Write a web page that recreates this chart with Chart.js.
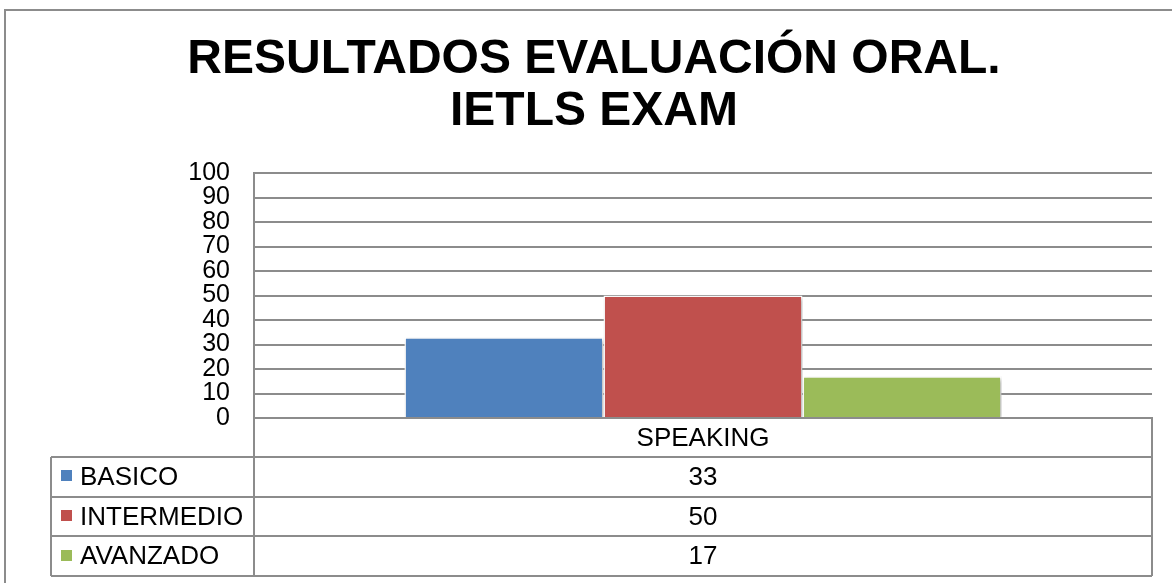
<!DOCTYPE html>
<html>
<head>
<meta charset="utf-8">
<script src="https://cdn.jsdelivr.net/npm/chart.js@4/dist/chart.umd.min.js"></script>
<style>
  html, body { margin: 0; padding: 0; background: #ffffff; }
  #wrap { width: 1172px; height: 583px; }
</style>
</head>
<body>
<div id="wrap"><canvas id="c" width="1172" height="583"></canvas></div>
<script>
// ---- data ----
const titleLines = ['RESULTADOS EVALUACIÓN ORAL.', 'IETLS EXAM'];
const categories = ['SPEAKING'];
const seriesNames = ['BASICO', 'INTERMEDIO', 'AVANZADO'];
const basicoValues = [33];
const intermedioValues = [50];
const avanzadoValues = [17];
const seriesColors = ['#4F81BD', '#C0504D', '#9BBB59'];
const yMin = 0, yMax = 100, yStep = 10;

const FONT = "'Liberation Sans', Arial, sans-serif";
const GRID = '#8c8c8c';

// ---- plugins ----
const frame = {
  id: 'frame',
  beforeDraw(chart) {
    const ctx = chart.ctx;
    ctx.save();
    ctx.fillStyle = '#ffffff';
    ctx.fillRect(0, 0, chart.width, chart.height);
    ctx.strokeStyle = GRID;
    ctx.lineWidth = 2;
    ctx.strokeRect(5, 10, chart.width + 20, chart.height + 20);
    ctx.restore();
  }
};

const barShadow = {
  id: 'barShadow',
  beforeDatasetsDraw(chart) {
    const ctx = chart.ctx;
    ctx.save();
    ctx.shadowColor = 'rgba(0,0,0,0.28)';
    ctx.shadowBlur = 4;
    ctx.shadowOffsetX = 2;
    ctx.shadowOffsetY = 2;
  },
  afterDatasetsDraw(chart) {
    chart.ctx.restore();
  }
};

const dataTable = {
  id: 'dataTable',
  afterDraw(chart) {
    const ctx = chart.ctx;
    const area = chart.chartArea;
    const xs = chart.scales.x;
    const headerH = 39;
    const rowH = 39.7;
    const leftX = 51;
    const top = area.bottom;
    const firstRow = top + headerH;
    const n = chart.data.datasets.length;
    const bottom = firstRow + rowH * n;
    ctx.save();
    ctx.strokeStyle = GRID;
    ctx.lineWidth = 2;
    ctx.beginPath();
    for (let i = 0; i <= n; i++) {
      const y = Math.round(firstRow + rowH * i);
      ctx.moveTo(leftX, y);
      ctx.lineTo(area.right, y);
    }
    ctx.moveTo(leftX, Math.round(firstRow));
    ctx.lineTo(leftX, Math.round(bottom));
    ctx.moveTo(area.left, top);
    ctx.lineTo(area.left, Math.round(bottom));
    ctx.moveTo(area.right, top);
    ctx.lineTo(area.right, Math.round(bottom));
    ctx.stroke();

    ctx.font = '26px ' + FONT;
    ctx.fillStyle = '#000000';
    ctx.textBaseline = 'middle';
    chart.data.datasets.forEach((ds, i) => {
      const cy = firstRow + rowH * i + rowH / 2;
      ctx.fillStyle = ds.backgroundColor;
      ctx.fillRect(61, Math.round(cy - 6.5), 11, 11);
      ctx.fillStyle = '#000000';
      ctx.textAlign = 'left';
      ctx.fillText(ds.label, 80, cy + 1);
      ctx.textAlign = 'center';
      ds.data.forEach((v, j) => {
        ctx.fillText(String(v), xs.getPixelForValue(j), cy + 1);
      });
    });
    ctx.restore();
  }
};

const seriesValues = [basicoValues, intermedioValues, avanzadoValues];

new Chart(document.getElementById('c'), {
  type: 'bar',
  data: {
    labels: categories,
    datasets: seriesNames.map((name, i) => ({
      label: name,
      data: seriesValues[i],
      backgroundColor: seriesColors[i],
      borderColor: '#ffffff',
      borderWidth: 1.5,
      categoryPercentage: 0.665,
      barPercentage: 1.0
    }))
  },
  options: {
    responsive: false,
    devicePixelRatio: 1,
    animation: false,
    layout: { padding: { left: 36, right: 20, top: 0, bottom: 0 } },
    plugins: {
      legend: { display: false },
      tooltip: { enabled: false },
      title: {
        display: true,
        text: titleLines,
        color: '#000000',
        font: { family: FONT, size: 48, weight: 'bold', lineHeight: 52 / 48 },
        padding: { top: 34, bottom: 35 }
      }
    },
    scales: {
      x: {
        grid: { display: false, drawTicks: false },
        border: { display: true, color: GRID, width: 2 },
        ticks: { color: '#000000', font: { family: FONT, size: 26, lineHeight: 1 }, padding: 8 },
        afterFit(scale) { scale.height = 165; }
      },
      y: {
        min: yMin,
        max: yMax,
        grid: { color: GRID, lineWidth: 2, drawTicks: false },
        border: { display: true, color: GRID, width: 2 },
        ticks: {
          stepSize: yStep,
          autoSkip: false,
          color: '#000000',
          font: { family: FONT, size: 25, lineHeight: 1 },
          padding: 24
        },
        afterFit(scale) { scale.width = 218; }
      }
    }
  },
  plugins: [frame, barShadow, dataTable]
});
</script>
</body>
</html>
